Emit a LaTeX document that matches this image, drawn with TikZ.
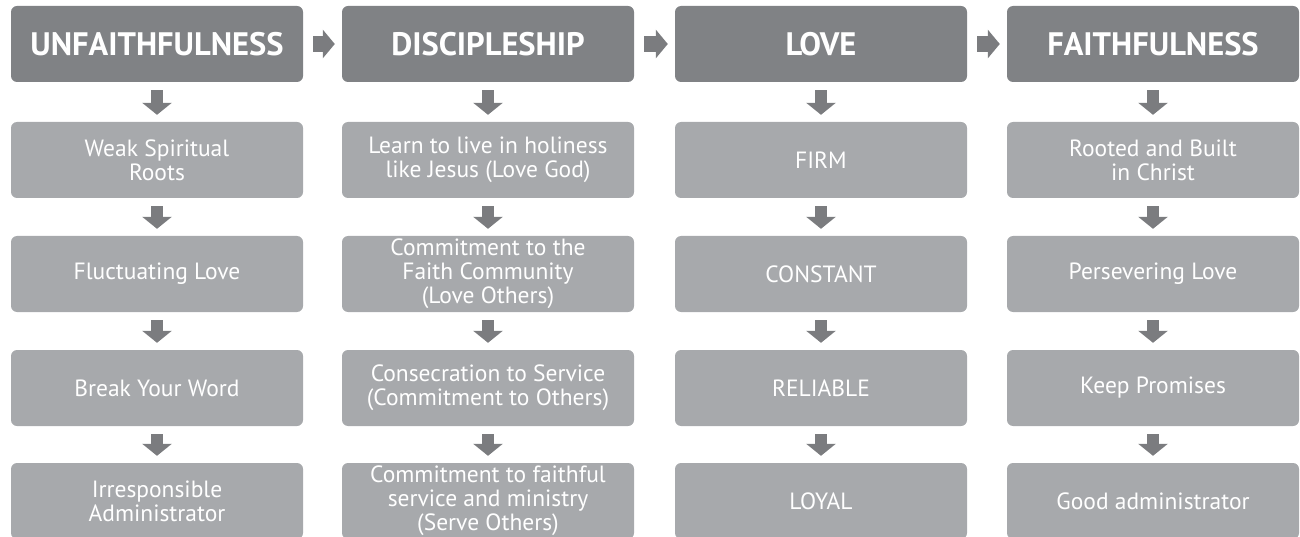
\documentclass[tikz,border=0pt]{standalone}
\usepackage{fontspec}
\setmainfont{PT Sans}
\usepackage{tikz}
\usetikzlibrary{arrows.meta}

\definecolor{headgray}{HTML}{808285}
\definecolor{boxgray}{HTML}{A7A9AC}
\definecolor{arrowgray}{HTML}{7B7C7F}

\tikzset{
  headbox/.style={shape=rectangle,rounded corners=6pt,fill=headgray,text=white,
    minimum width=292pt,minimum height=76pt,inner sep=0pt,
    font=\fontsize{32.5}{35}\selectfont\bfseries},
  stepbox/.style={shape=rectangle,rounded corners=6pt,fill=boxgray,text=white,
    minimum width=292pt,minimum height=76pt,inner sep=0pt,align=center,
    font=\fontsize{23.5}{24}\selectfont},
  downarrow/.style={draw=arrowgray,line width=12pt,
    -{Triangle[length=12pt,width=29pt]},shorten <=8pt,shorten >=7pt},
  rightarrow/.style={draw=arrowgray,line width=16pt,
    -{Triangle[length=12pt,width=28pt]},shorten <=10pt,shorten >=7pt}
}

\begin{document}
\begin{tikzpicture}[x=1pt,y=-1pt]
    \useasboundingbox (0,0) rectangle (1300,537);
    \node[headbox] (unf) at (157,44) {UNFAITHFULNESS};
    \node[headbox] (disc) at (488,44) {DISCIPLESHIP};
    \node[headbox] (love) at (821,44) {LOVE};
    \node[headbox] (faith) at (1153,44) {FAITHFULNESS};

    \node[stepbox] (unf1) at (157,160) {Weak Spiritual\\Roots};
    \node[stepbox] (unf2) at (157,274) {Fluctuating Love};
    \node[stepbox] (unf3) at (157,388) {Break Your Word};
    \node[stepbox] (unf4) at (157,501) {Irresponsible\\Administrator};

    \node[stepbox] (disc1) at (488,160) {Learn to live in holiness\\like Jesus (Love God)};
    \node[stepbox] (disc2) at (488,274) {Commitment to the\\Faith Community\\(Love Others)};
    \node[stepbox] (disc3) at (488,388) {Consecration to Service\\(Commitment to Others)};
    \node[stepbox] (disc4) at (488,501) {Commitment to faithful\\service and ministry\\(Serve Others)};

    \node[stepbox] (love1) at (821,160) {FIRM};
    \node[stepbox] (love2) at (821,274) {CONSTANT};
    \node[stepbox] (love3) at (821,388) {RELIABLE};
    \node[stepbox] (love4) at (821,501) {LOYAL};

    \node[stepbox] (faith1) at (1153,160) {Rooted and Built\\in Christ};
    \node[stepbox] (faith2) at (1153,274) {Persevering Love};
    \node[stepbox] (faith3) at (1153,388) {Keep Promises};
    \node[stepbox] (faith4) at (1153,501) {Good administrator};

    \path (unf) edge[rightarrow] (disc);
    \path (disc) edge[rightarrow] (love);
    \path (love) edge[rightarrow] (faith);

    \path (unf) edge[downarrow] (unf1);
    \path (unf1) edge[downarrow] (unf2);
    \path (unf2) edge[downarrow] (unf3);
    \path (unf3) edge[downarrow] (unf4);

    \path (disc) edge[downarrow] (disc1);
    \path (disc1) edge[downarrow] (disc2);
    \path (disc2) edge[downarrow] (disc3);
    \path (disc3) edge[downarrow] (disc4);

    \path (love) edge[downarrow] (love1);
    \path (love1) edge[downarrow] (love2);
    \path (love2) edge[downarrow] (love3);
    \path (love3) edge[downarrow] (love4);

    \path (faith) edge[downarrow] (faith1);
    \path (faith1) edge[downarrow] (faith2);
    \path (faith2) edge[downarrow] (faith3);
    \path (faith3) edge[downarrow] (faith4);
\end{tikzpicture}
\end{document}
